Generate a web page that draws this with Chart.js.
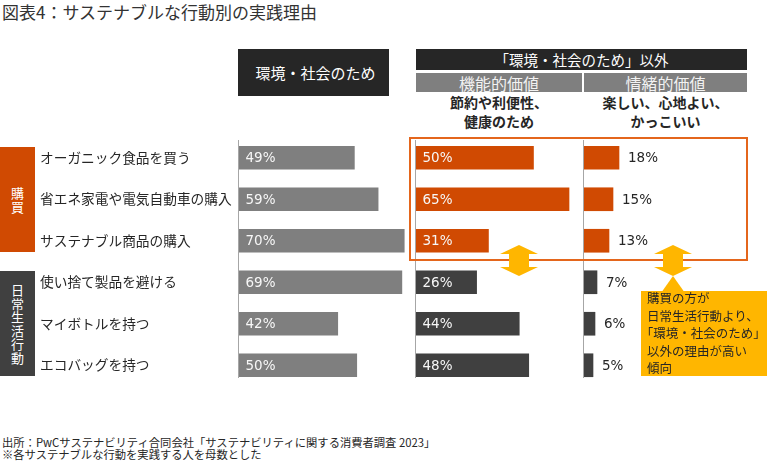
<!DOCTYPE html>
<html lang="ja">
<head>
<meta charset="utf-8">
<script src="https://cdn.jsdelivr.net/npm/chart.js@4"></script>
<style>
  body { margin: 0; background: #fff; font-family: "Noto Sans CJK JP", sans-serif; color: #262626; }
  .wrap { position: relative; width: 769px; height: 461px; overflow: hidden; }
  .abs { position: absolute; }
  .title { left: 2px; top: 2px; font-size: 17px; line-height: 20px; color: #333; }
  .hdr { display: flex; align-items: center; justify-content: center; color: #fff; white-space: nowrap; }
  .sub { font-size: 14px; font-weight: bold; line-height: 19px; text-align: center; }
  .grp { display: flex; align-items: center; justify-content: center; color: #fff; font-size: 13px; line-height: 13.5px; text-align: center; }
  .note { left: 2px; top: 436px; font-size: 11.3px; line-height: 12px; }
  .half { font-feature-settings: "halt"; }
  canvas { position: absolute; }
</style>
</head>
<body>
<div class="wrap">
  <div class="abs title">図表4：サステナブルな行動別の実践理由</div>

  <div class="abs hdr" style="left:238px;top:49px;width:151px;height:47px;background:#262626;font-size:15px;padding-left:4px;box-sizing:border-box;">環境・社会のため</div>
  <div class="abs hdr" style="left:416px;top:49px;width:331px;height:21px;background:#262626;font-size:14.5px;">「環境・社会のため」以外</div>
  <div class="abs hdr" style="left:416px;top:73px;width:166px;height:19px;background:#7f7f7f;font-size:16px;color:#f2f2f2;">機能的価値</div>
  <div class="abs hdr" style="left:584px;top:73px;width:163px;height:19px;background:#7f7f7f;font-size:16px;color:#f2f2f2;">情緒的価値</div>
  <div class="abs sub" style="left:416px;top:93px;width:166px;">節約や利便性、<br>健康のため</div>
  <div class="abs sub" style="left:584px;top:93px;width:163px;">楽しい、心地よい、<br>かっこいい</div>

  <div class="abs grp" style="left:0;top:147px;width:35px;height:105px;background:#d04a02;">購<br>買</div>
  <div class="abs grp" style="left:0;top:271px;width:35px;height:105px;background:#404040;">日<br>常<br>生<br>活<br>行<br>動</div>

  <canvas id="envChart" width="409" height="249" style="left:0;top:137px;"></canvas>
  <canvas id="funcChart" width="168" height="249" style="left:415px;top:137px;"></canvas>
  <canvas id="emoChart" width="110" height="249" style="left:583px;top:137px;"></canvas>

  <div class="abs" style="left:409px;top:137px;width:339px;height:124px;border:2px solid #e4661c;box-sizing:border-box;"></div>

  <svg class="abs" style="left:500px;top:245px;" width="38" height="31"><polygon fill="#ffb600" points="19,0 38,9 29,9 29,22 38,22 19,31 0,22 9,22 9,9 0,9"/></svg>
  <svg class="abs" style="left:654px;top:245px;" width="38" height="31"><polygon fill="#ffb600" points="19,0 38,9 29,9 29,22 38,22 19,31 0,22 9,22 9,9 0,9"/></svg>

  <svg class="abs" style="left:660px;top:276px;" width="26" height="17"><polygon fill="#ffb600" points="13,0 25,17 1,17"/></svg>
  <div class="abs" style="left:641px;top:291px;width:126px;height:85px;background:#ffb600;">
    <div style="position:relative;top:-2px;padding-left:6px;font-size:12.5px;line-height:17.5px;color:#262626;white-space:nowrap;">購買の方が<br>日常生活行動より、<br><span class="half">「</span>環境・社会のため<span class="half">」</span><br>以外の理由が高い<br>傾向</div>
  </div>

  <div class="abs note">出所：PwCサステナビリティ合同会社「サステナビリティに関する消費者調査 2023」<br>※各サステナブルな行動を実践する人を母数とした</div>
</div>

<script>
// rows, top 3 = 購買, bottom 3 = 日常生活行動
const rowLabels = [
  'オーガニック食品を買う',
  '省エネ家電や電気自動車の購入',
  'サステナブル商品の購入',
  '使い捨て製品を避ける',
  'マイボトルを持つ',
  'エコバッグを持つ'
];
const envValues = [49, 59, 70, 69, 42, 50];   // 環境・社会のため
const funcValues = [50, 65, 31, 26, 44, 48];  // 機能的価値
const emoValues = [18, 15, 13, 7, 6, 5];      // 情緒的価値
const isPurchase = [true, true, true, false, false, false];

const ORANGE = '#d04a02';
const DARK = '#404040';
const GRAY = '#7f7f7f';

Chart.defaults.font.family = '"Noto Sans CJK JP", sans-serif';
Chart.defaults.animation = false;

// vertical base line + % labels
const barLabels = {
  id: 'barLabels',
  afterDatasetsDraw(chart, args, opts) {
    const ctx = chart.ctx;
    const area = chart.chartArea;

    ctx.save();
    ctx.strokeStyle = '#a6a6a6';
    ctx.lineWidth = 1;
    ctx.beginPath();
    ctx.moveTo(area.left + 0.5, area.top + 3);
    ctx.lineTo(area.left + 0.5, area.bottom - 8);
    ctx.stroke();

    ctx.font = '13.5px "DejaVu Sans", sans-serif';
    ctx.textBaseline = 'middle';
    ctx.textAlign = 'left';
    const meta = chart.getDatasetMeta(0);
    const values = chart.data.datasets[0].data;
    meta.data.forEach((bar, i) => {
      const txt = values[i] + '%';
      if (opts.outside) {
        ctx.fillStyle = '#262626';
        ctx.fillText(txt, bar.x + 9, bar.y + 1);
      } else {
        ctx.fillStyle = '#f7f7f7';
        ctx.fillText(txt, bar.base + 7.5, bar.y + 1);
      }
    });
    ctx.restore();
  }
};

function makeChart(id, values, colors, max, withLabels, outside) {
  const yScale = {
    display: withLabels,
    grid: { display: false },
    border: { display: false },
    ticks: {
      crossAlign: 'far',
      padding: 0,
      color: '#262626',
      font: { size: 13.7 }
    }
  };
  if (withLabels) {
    yScale.afterFit = scale => {
      scale.width = 198;
      scale.paddingTop = 0;
      scale.paddingBottom = 0;
    };
  }

  return new Chart(document.getElementById(id), {
    type: 'bar',
    data: {
      labels: rowLabels,
      datasets: [{
        data: values,
        backgroundColor: colors,
        barThickness: 23,
        borderWidth: 0
      }]
    },
    options: {
      indexAxis: 'y',
      responsive: false,
      layout: { padding: { left: withLabels ? 40 : 0, top: 0, right: 0, bottom: 0 } },
      scales: {
        x: { display: false, min: 0, max: max },
        y: yScale
      },
      plugins: {
        legend: { display: false },
        tooltip: { enabled: false },
        barLabels: { outside: outside }
      }
    },
    plugins: [barLabels]
  });
}

const rowColors = isPurchase.map(p => p ? ORANGE : DARK);

makeChart('envChart', envValues, envValues.map(() => GRAY), 72, true, false);
makeChart('funcChart', funcValues, rowColors, 70.9, false, false);
makeChart('emoChart', emoValues, rowColors, 55, false, true);
</script>
</body>
</html>
